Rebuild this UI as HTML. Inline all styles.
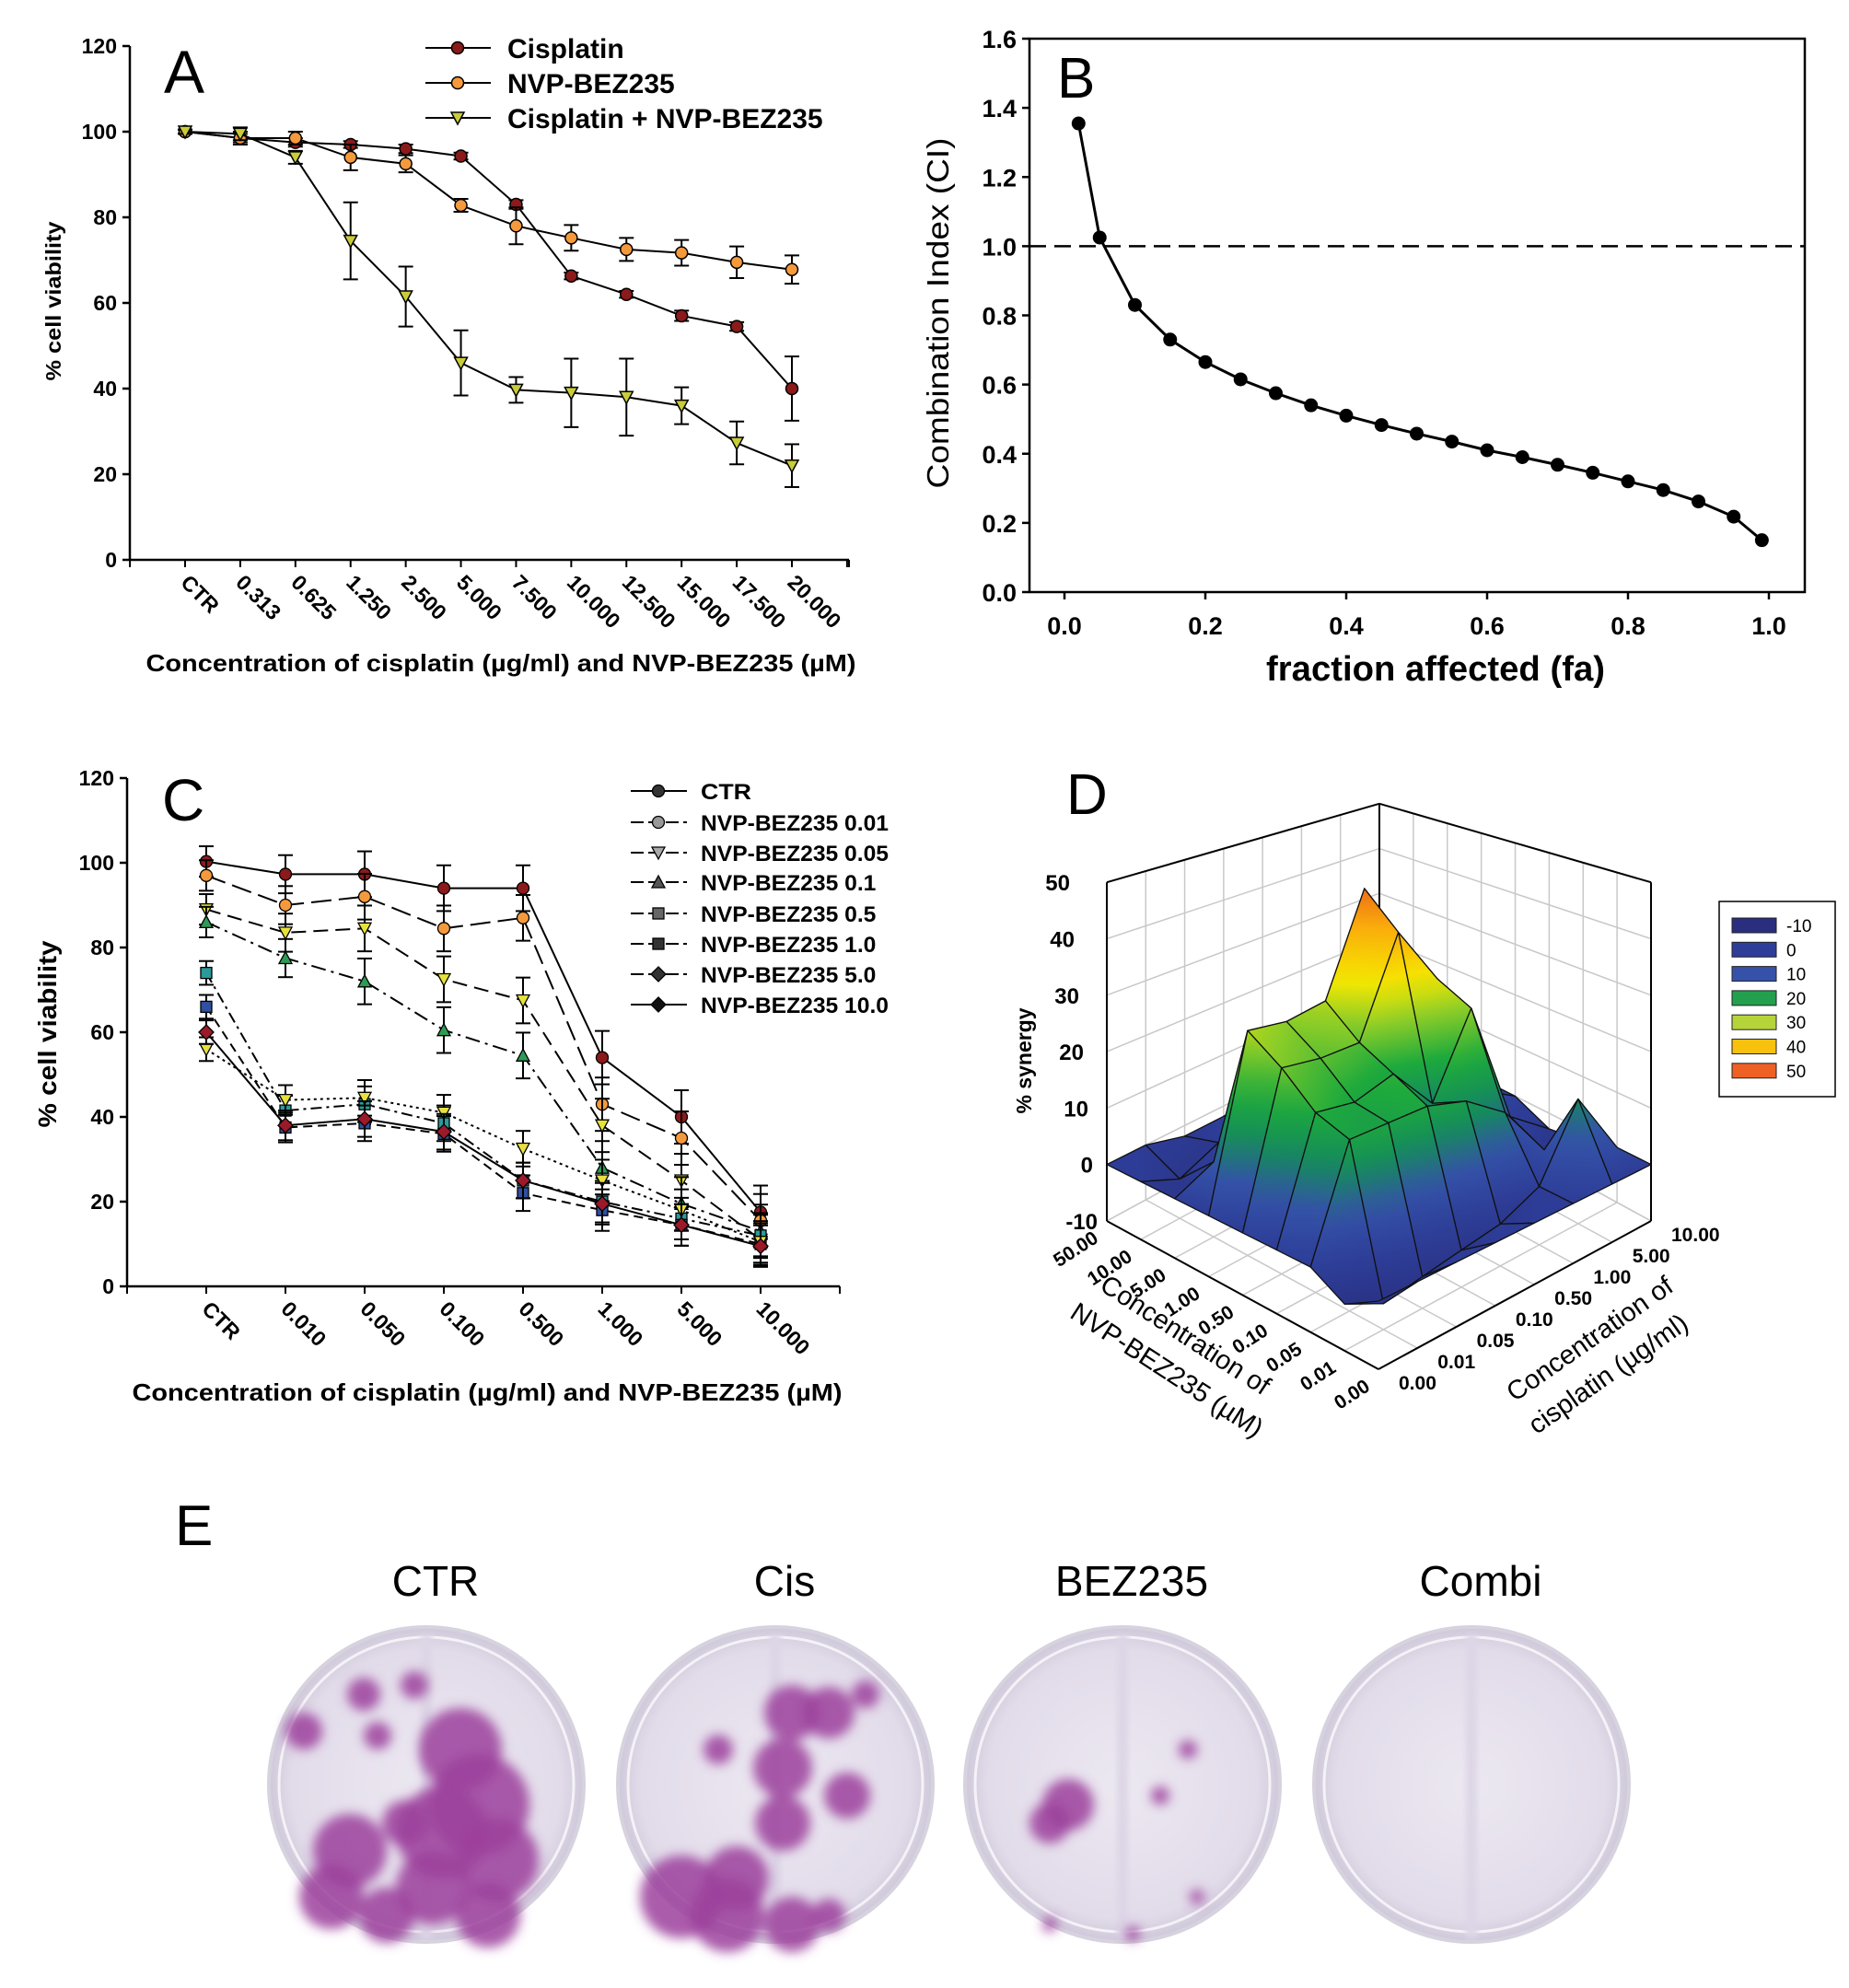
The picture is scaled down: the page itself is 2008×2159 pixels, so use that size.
<!DOCTYPE html>
<html><head><meta charset="utf-8"><style>
html,body{margin:0;padding:0;background:#fff}
svg{display:block;font-family:"Liberation Sans",Arial,sans-serif}
.b{font-weight:bold}
</style></head><body>
<svg id="fig" width="2008" height="2159" viewBox="0 0 2008 2159" xmlns="http://www.w3.org/2000/svg">
<defs id="defs">
<filter id="blur" x="-30%" y="-30%" width="160%" height="160%"><feGaussianBlur stdDeviation="6"/></filter>
<filter id="blur2" x="-30%" y="-30%" width="160%" height="160%"><feGaussianBlur stdDeviation="3"/></filter>
<radialGradient id="plateg" cx="50%" cy="50%" r="50%"><stop offset="0" stop-color="#ece8f1"/><stop offset="0.85" stop-color="#e2dcea"/><stop offset="1" stop-color="#cfc8da"/></radialGradient>
</defs>
<g id="panelA"></g>
<g id="panelB"></g>
<g id="panelC"></g>
<g id="panelD"></g>
<g id="panelE"></g>
</svg>
<script>
// ---------- Panel A data ----------
const aCats = ["CTR","0.313","0.625","1.250","2.500","5.000","7.500","10.000","12.500","15.000","17.500","20.000"];
const aCis = [100,98.5,97.5,97,96,94.3,83,66.3,62,57,54.5,40];
const aCisErr = [0.5,1,1,0.8,1,0.8,1,0.8,0.8,1.2,1,7.5];
const aNvp = [100,98.5,98.5,94,92.5,82.8,78,75.2,72.5,71.7,69.5,67.8];
const aNvpErr = [0.5,1.5,1.5,3,2,1.5,4.3,3,2.7,3,3.7,3.3];
const aCombo = [100,99.5,94,74.5,61.5,46,39.7,39,38,36,27.3,22];
const aComboErr = [0.5,1.5,1.5,9,7,7.6,3,8,9,4.3,5,5];
const aYTicks = [0,20,40,60,80,100,120];
// ---------- Panel B data ----------
const bFa = [0.02,0.05,0.1,0.15,0.2,0.25,0.3,0.35,0.4,0.45,0.5,0.55,0.6,0.65,0.7,0.75,0.8,0.85,0.9,0.95,0.99];
const bCI = [1.355,1.025,0.83,0.73,0.665,0.615,0.575,0.54,0.51,0.483,0.458,0.435,0.41,0.39,0.368,0.345,0.32,0.295,0.262,0.218,0.15];
const bYTicks = [0,0.2,0.4,0.6,0.8,1.0,1.2,1.4,1.6];
const bXTicks = [0,0.2,0.4,0.6,0.8,1.0];
// ---------- Panel C data ----------
const cCats = ["CTR","0.010","0.050","0.100","0.500","1.000","5.000","10.000"];
const cNames = ["CTR","NVP-BEZ235 0.01","NVP-BEZ235 0.05","NVP-BEZ235 0.1","NVP-BEZ235 0.5","NVP-BEZ235 1.0","NVP-BEZ235 5.0","NVP-BEZ235 10.0"];
const cS0 = [100.3,97.3,97.3,94,94,54,40,17.5];
const cS1 = [97,90,92,84.5,87,43,35,15.5];
const cS2 = [89,83.5,84.5,72.5,67.5,38,25,11];
const cS3 = [86,77.5,72,60.5,54.5,28,19.5,13];
const cS4 = [74,41.5,43,38.5,25,20,16,12];
const cS5 = [66,37.5,38.5,36,22,18,14.5,10];
const cS6 = [56,44,44.5,41,32.5,25,18,10.5];
const cS7 = [60,38,39.5,36.5,25,19.5,14.5,9.5];
const cErr = [4,5,6,6,6,7,7,7];
const cYTicks = [0,20,40,60,80,100,120];
// ---------- Panel D data ----------
const dNvp = ["0.00","0.01","0.05","0.10","0.50","1.00","5.00","10.00","50.00"];
const dCis = ["0.00","0.01","0.05","0.10","0.50","1.00","5.00","10.00"];
const dSyn = [
 [0,0,0,0,0,0,0,0],
 [-3,-6,-5,-4,-3,0,12,0],
 [0,17,17,17,15,10,0,-2],
 [0,19,18,20,12,26,3,-3],
 [0,24,23,23,40,29,5,0],
 [0,28,27,28,46,20,3,0],
 [0,3,5,8,10,5,0,-2],
 [0,-3,0,3,2,0,-2,0],
 [0,0,-2,-2,-1,0,0,0]];
const dLegend = [-10,0,10,20,30,40,50];
const dZTicks = [-10,0,10,20,30,40,50];

const NS="http://www.w3.org/2000/svg";
function mk(parent,tag,attrs,text){const e=document.createElementNS(NS,tag);for(const k in attrs)e.setAttribute(k,attrs[k]);if(text!==undefined)e.textContent=text;parent.appendChild(e);return e;}

// ================= Panel A =================
(function(){
 const g=document.getElementById('panelA');
 const X0=141,X1=922,Y0=608,Y1=50, cx0=201, step=(860-201)/11;
 const xp=i=>cx0+i*step, yp=v=>Y0+(v/120)*(Y1-Y0);
 let t=mk(g,'line',{x1:X0,y1:Y0,x2:X0,y2:Y1,stroke:'#000','stroke-width':2.5});
  
 t=mk(g,'line',{x1:X0,y1:Y0,x2:X1,y2:Y0,stroke:'#000','stroke-width':2.5});
  
 aYTicks.forEach(v=>{
  mk(g,'line',{x1:X0-8,y1:yp(v),x2:X0,y2:yp(v),stroke:'#000','stroke-width':2.5});
  const l=mk(g,'text',{x:X0-14,y:yp(v)+8,'text-anchor':'end','font-size':23,class:'b'},v);
   
 });
 for(let i=-1;i<=12;i++){const x=xp(i); if(x>=X0&&x<=X1+1) mk(g,'line',{x1:x,y1:Y0,x2:x,y2:Y0+8,stroke:'#000','stroke-width':2});}
 mk(g,'line',{x1:X1,y1:Y0,x2:X1,y2:Y0+8,stroke:'#000','stroke-width':2});
 aCats.forEach((c,i)=>{
  const l=mk(g,'text',{x:0,y:0,'font-size':23,class:'b',transform:`translate(${xp(i)-6},${Y0+26}) rotate(45)`},c);
   
 });
 let tt=mk(g,'text',{x:544,y:729,'text-anchor':'middle','font-size':26,class:'b',textLength:771,lengthAdjust:'spacingAndGlyphs'},'Concentration of cisplatin (µg/ml) and NVP-BEZ235 (µM)');
  
 tt=mk(g,'text',{x:0,y:0,'text-anchor':'middle','font-size':23,class:'b',transform:'translate(66,327) rotate(-90)',textLength:173,lengthAdjust:'spacingAndGlyphs'},'% cell viability');
  
 tt=mk(g,'text',{x:178,y:101,'font-size':66},'A');
  
 const series=[{v:aCis,e:aCisErr,c:'#8b1a1a',m:'c',n:'Cisplatin'},{v:aNvp,e:aNvpErr,c:'#f59a3c',m:'c',n:'NVP-BEZ235'},{v:aCombo,e:aComboErr,c:'#c9cc3a',m:'t',n:'Cisplatin + NVP-BEZ235'}];
 series.forEach((s,si)=>{
  const sg=mk(g,'g',{});
   
  s.v.forEach((v,i)=>{const x=xp(i);const e=s.e[i];
   mk(sg,'line',{x1:x,y1:yp(v+e),x2:x,y2:yp(v-e),stroke:'#000','stroke-width':2});
   mk(sg,'line',{x1:x-8,y1:yp(v+e),x2:x+8,y2:yp(v+e),stroke:'#000','stroke-width':2});
   mk(sg,'line',{x1:x-8,y1:yp(v-e),x2:x+8,y2:yp(v-e),stroke:'#000','stroke-width':2});});
  mk(sg,'polyline',{points:s.v.map((v,i)=>xp(i)+','+yp(v)).join(' '),fill:'none',stroke:'#000','stroke-width':2});
  s.v.forEach((v,i)=>{const x=xp(i),y=yp(v);let m;
   if(s.m==='c') m=mk(sg,'circle',{cx:x,cy:y,r:6.5,fill:s.c,stroke:'#000','stroke-width':1.5});
   else m=mk(sg,'polygon',{points:`${x-7},${y-6} ${x+7},${y-6} ${x},${y+7}`,fill:s.c,stroke:'#000','stroke-width':1.5});
    });
  const ly=[52,90,128][si];
  const lg=mk(g,'g',{});  
  mk(lg,'line',{x1:462,y1:ly,x2:533,y2:ly,stroke:'#000','stroke-width':2});
  if(s.m==='c') mk(lg,'circle',{cx:497,cy:ly,r:6.5,fill:s.c,stroke:'#000','stroke-width':1.5});
  else mk(lg,'polygon',{points:`490,${ly-6} 504,${ly-6} 497,${ly+7}`,fill:s.c,stroke:'#000','stroke-width':1.5});
  mk(lg,'text',{x:551,y:ly+11,'font-size':30,class:'b'},s.n);
 });
})();

// ================= Panel B =================
(function(){
 const g=document.getElementById('panelB');
 const X0=1118,X1=1960,Y0=643,Y1=42;
 const xp=v=>1156+v*(1921-1156), yp=v=>Y0+(v/1.6)*(Y1-Y0);
 let r=mk(g,'rect',{x:X0,y:Y1,width:X1-X0,height:Y0-Y1,fill:'none',stroke:'#000','stroke-width':2.5});
  
 bYTicks.forEach(v=>{mk(g,'line',{x1:X0-8,y1:yp(v),x2:X0,y2:yp(v),stroke:'#000','stroke-width':2.5});
  const l=mk(g,'text',{x:X0-14,y:yp(v)+10,'text-anchor':'end','font-size':27,class:'b'},v.toFixed(1));
   });
 bXTicks.forEach(v=>{mk(g,'line',{x1:xp(v),y1:Y0,x2:xp(v),y2:Y0+8,stroke:'#000','stroke-width':2.5});
  const l=mk(g,'text',{x:xp(v),y:Y0+46,'text-anchor':'middle','font-size':27,class:'b'},v.toFixed(1));
   });
 let t=mk(g,'line',{x1:X0,y1:yp(1),x2:X1,y2:yp(1),stroke:'#000','stroke-width':2.5,'stroke-dasharray':'18,9'});
  
 let d='M'+xp(bFa[0])+','+yp(bCI[0]);
 for(let i=1;i<bFa.length;i++) d+=' L'+xp(bFa[i])+','+yp(bCI[i]);
 t=mk(g,'path',{d:d,fill:'none',stroke:'#000','stroke-width':3,'stroke-linejoin':'round'});
  
 bFa.forEach((f,i)=>{const c=mk(g,'circle',{cx:xp(f),cy:yp(bCI[i]),r:7.5,fill:'#000'});
   });
 t=mk(g,'text',{x:1559,y:739,'text-anchor':'middle','font-size':38,class:'b',textLength:368,lengthAdjust:'spacingAndGlyphs'},'fraction affected (fa)');
  
 t=mk(g,'text',{x:0,y:0,'text-anchor':'middle','font-size':33,transform:'translate(1030,340) rotate(-90)',textLength:381,lengthAdjust:'spacingAndGlyphs'},'Combination Index (CI)');
  
 t=mk(g,'text',{x:1148,y:106,'font-size':62},'B');
  
})();

// ================= Panel C =================
(function(){
 const g=document.getElementById('panelC');
 const X0=138,X1=912,Y0=1397,Y1=845, cx0=224, step=(826-224)/7;
 const xp=i=>cx0+i*step, yp=v=>Y0+(v/120)*(Y1-Y0);
 mk(g,'line',{x1:X0,y1:Y0,x2:X0,y2:Y1,stroke:'#000','stroke-width':2.5});
 mk(g,'line',{x1:X0,y1:Y0,x2:X1,y2:Y0,stroke:'#000','stroke-width':2.5});
 cYTicks.forEach(v=>{mk(g,'line',{x1:X0-8,y1:yp(v),x2:X0,y2:yp(v),stroke:'#000','stroke-width':2.5});
  const l=mk(g,'text',{x:X0-14,y:yp(v)+8,'text-anchor':'end','font-size':23,class:'b'},v);
   });
 for(let i=-1;i<=8;i++){const x=xp(i);if(x>=X0-1&&x<=X1+1) mk(g,'line',{x1:x,y1:Y0,x2:x,y2:Y0+8,stroke:'#000','stroke-width':2});}
 mk(g,'line',{x1:X1,y1:Y0,x2:X1,y2:Y0+8,stroke:'#000','stroke-width':2});
 cCats.forEach((c,i)=>{const l=mk(g,'text',{x:0,y:0,'font-size':23,class:'b',transform:`translate(${xp(i)-6},${Y0+26}) rotate(45)`},c);
   });
 let t=mk(g,'text',{x:529,y:1521,'text-anchor':'middle','font-size':26,class:'b',textLength:771,lengthAdjust:'spacingAndGlyphs'},'Concentration of cisplatin (µg/ml) and NVP-BEZ235 (µM)');
  
 t=mk(g,'text',{x:0,y:0,'text-anchor':'middle','font-size':28,class:'b',transform:'translate(61,1123) rotate(-90)',textLength:203,lengthAdjust:'spacingAndGlyphs'},'% cell viability');
  
 t=mk(g,'text',{x:176,y:891,'font-size':64},'C');
  
 const all=[cS0,cS1,cS2,cS3,cS4,cS5,cS6,cS7];
 const cols=['#8b1a1a','#f59a3c','#e6e23a','#2e9a55','#2a9a9a','#3050a0','#e8e040','#9a1a2a'];
 const mks=['c','c','tv','t','s','s','tv','d'];
 const dash=['none','22,8','16,8','16,6,3,6','12,5,3,5','10,6','3,4','none'];
 const lys=[859,893,926,958,992,1025,1058,1091];
 const lmk=['c','c','tv','t','s','s','d','d'];
 const lcol=['#333','#999','#aaa','#555','#666','#333','#333','#111'];
 function marker(p,m,x,y,c){
  if(m==='c') return mk(p,'circle',{cx:x,cy:y,r:6.5,fill:c,stroke:'#000','stroke-width':1.3});
  if(m==='tv') return mk(p,'polygon',{points:`${x-7},${y-6} ${x+7},${y-6} ${x},${y+7}`,fill:c,stroke:'#000','stroke-width':1.3});
  if(m==='t') return mk(p,'polygon',{points:`${x-7},${y+6} ${x+7},${y+6} ${x},${y-7}`,fill:c,stroke:'#000','stroke-width':1.3});
  if(m==='s') return mk(p,'rect',{x:x-6,y:y-6,width:12,height:12,fill:c,stroke:'#000','stroke-width':1.3});
  return mk(p,'polygon',{points:`${x},${y-8} ${x+8},${y} ${x},${y+8} ${x-8},${y}`,fill:c,stroke:'#000','stroke-width':1.3});
 }
 all.forEach((s,si)=>{
  const sg=mk(g,'g',{});
   
  s.forEach((v,i)=>{const x=xp(i),e=cErr[i]*(si<4?0.9:0.7);
   mk(sg,'line',{x1:x,y1:yp(v+e),x2:x,y2:yp(v-e),stroke:'#000','stroke-width':2});
   mk(sg,'line',{x1:x-8,y1:yp(v+e),x2:x+8,y2:yp(v+e),stroke:'#000','stroke-width':2});
   mk(sg,'line',{x1:x-8,y1:yp(v-e),x2:x+8,y2:yp(v-e),stroke:'#000','stroke-width':2});});
  const pl=mk(sg,'polyline',{points:s.map((v,i)=>xp(i)+','+yp(v)).join(' '),fill:'none',stroke:'#000','stroke-width':2});
  if(dash[si]!=='none') pl.setAttribute('stroke-dasharray',dash[si]);
  s.forEach((v,i)=>{const m=marker(sg,mks[si],xp(i),yp(v),cols[si]);
    });
  const lg=mk(g,'g',{});  
  const ly=lys[si];
  const ll=mk(lg,'line',{x1:685,y1:ly,x2:746,y2:ly,stroke:'#000','stroke-width':2});
  if(dash[si]!=='none') ll.setAttribute('stroke-dasharray','14,5');
  marker(lg,lmk[si],715,ly,lcol[si]);
  mk(lg,'text',{x:761,y:ly+9,'font-size':24,class:'b',textLength:si===0?55:(cNames[si].length*13.6),lengthAdjust:'spacingAndGlyphs'},cNames[si]);
 });
})();

// ================= Panel D =================
(function(){
 const g=document.getElementById('panelD');
 const defs=document.getElementById('defs');
 const F=[1497,1487], L=[1202,1326], R=[1793,1326];
 const nI=dNvp.length-1, nJ=dCis.length-1;
 function floor(u,v){return [F[0]+u*(L[0]-F[0])+v*(R[0]-F[0]), F[1]+u*(L[1]-F[1])+v*(R[1]-F[1])];}
 function sc(u,v){return 7.39-1.26*(u+v);}
 function P(u,v,z){const f=floor(u,v);return [f[0],f[1]-(z+10)*sc(u,v)];}
 const grid='#c8c8c8';
 dZTicks.forEach(z=>{
  const a=P(1,0,z),b=P(1,1,z),c=P(0,1,z);
  mk(g,'polyline',{points:`${a[0]},${a[1]} ${b[0]},${b[1]} ${c[0]},${c[1]}`,fill:'none',stroke:grid,'stroke-width':1.5});
  const l=mk(g,'text',{x:a[0]-10-(z+10)*0.5,y:a[1]+9,'text-anchor':'end','font-size':24,class:'b'},z);
   
 });
 for(let j=0;j<=nJ;j++){const v=j/nJ;const a=P(1,v,-10),b=P(1,v,50);mk(g,'line',{x1:a[0],y1:a[1],x2:b[0],y2:b[1],stroke:grid,'stroke-width':1.5});
  const c=P(0,v,-10);mk(g,'line',{x1:a[0],y1:a[1],x2:c[0],y2:c[1],stroke:grid,'stroke-width':1.5});}
 for(let i=0;i<=nI;i++){const u=i/nI;const a=P(u,1,-10),b=P(u,1,50);mk(g,'line',{x1:a[0],y1:a[1],x2:b[0],y2:b[1],stroke:grid,'stroke-width':1.5});
  const c=P(u,0,-10);mk(g,'line',{x1:a[0],y1:a[1],x2:c[0],y2:c[1],stroke:grid,'stroke-width':1.5});}
 const e1=P(1,0,-10),e2=P(1,0,50),e3=P(0,1,-10),e4=P(0,1,50),e5=P(1,1,-10),e6=P(1,1,50),e0=P(0,0,-10);
 [[e1,e2],[e3,e4],[e5,e6],[e2,e6],[e6,e4],[e1,e0],[e0,e3]].forEach(p=>mk(g,'line',{x1:p[0][0],y1:p[0][1],x2:p[1][0],y2:p[1][1],stroke:'#000','stroke-width':2}));
 function col(z){
  const st=[[-10,[40,45,120]],[0,[45,60,150]],[7,[52,82,168]],[13,[20,140,90]],[19,[30,170,60]],[26,[140,205,40]],[32,[245,232,0]],[40,[250,175,10]],[50,[232,68,30]]];
  if(z<=st[0][0]) return 'rgb('+st[0][1]+')';
  for(let k=1;k<st.length;k++){if(z<=st[k][0]){const t=(z-st[k-1][0])/(st[k][0]-st[k-1][0]);const a=st[k-1][1],b=st[k][1];
   return 'rgb('+a.map((q,ii)=>Math.round(q+(b[ii]-q)*t)).join(',')+')';}}
  return 'rgb('+st[st.length-1][1]+')';
 }
 const quads=[];
 for(let i=0;i<nI;i++)for(let j=0;j<nJ;j++) quads.push([i,j]);
 quads.sort((a,b)=>(b[0]/nI+b[1]/nJ)-(a[0]/nI+a[1]/nJ));
 const sg=mk(g,'g',{});  
 let gid=0;
 quads.forEach(([i,j])=>{
  const pts=[[i,j],[i+1,j],[i+1,j+1],[i,j+1]];
  const zs=pts.map(p=>dSyn[p[0]][p[1]]);
  const pp=pts.map(p=>P(p[0]/nI,p[1]/nJ,dSyn[p[0]][p[1]]));
  let kmin=0,kmax=0;zs.forEach((z,k)=>{if(z<zs[kmin])kmin=k;if(z>zs[kmax])kmax=k;});
  let fill;
  if(zs[kmax]-zs[kmin]<0.5){fill=col(zs[0]);}
  else{
   const id='sg'+(gid++);
   const lgd=mk(defs,'linearGradient',{id:id,gradientUnits:'userSpaceOnUse',x1:pp[kmin][0],y1:pp[kmin][1],x2:pp[kmax][0],y2:pp[kmax][1]});
   for(let s=0;s<=8;s++){const z=zs[kmin]+(zs[kmax]-zs[kmin])*s/8;mk(lgd,'stop',{offset:s/8,'stop-color':col(z)});}
   fill='url(#'+id+')';
  }
  const q=mk(sg,'polygon',{points:pp.map(p=>p.join(',')).join(' '),fill:fill,stroke:'#111','stroke-width':1.3,'stroke-linejoin':'round'});
   
 });
 dNvp.forEach((n,i)=>{const p=P(i/nI,0,-10);
  const l=mk(g,'text',{x:0,y:0,'text-anchor':'end','font-size':21,class:'b',transform:`translate(${p[0]-8},${p[1]+22}) rotate(-33)`},n);
   });
 dCis.forEach((n,j)=>{const p=P(0,j/nJ,-10);
  const l=mk(g,'text',{x:p[0]+22,y:p[1]+22,'font-size':21,class:'b'},n);
   });
 let t=mk(g,'text',{x:0,y:0,'text-anchor':'middle','font-size':29,transform:'translate(1282,1458) rotate(33)'},'Concentration of');
  
 t=mk(g,'text',{x:0,y:0,'text-anchor':'middle','font-size':29,transform:'translate(1262,1496) rotate(33)'},'NVP-BEZ235 (µM)');
  
 t=mk(g,'text',{x:0,y:0,'text-anchor':'middle','font-size':29,transform:'translate(1732,1462) rotate(-35)'},'Concentration of');
  
 t=mk(g,'text',{x:0,y:0,'text-anchor':'middle','font-size':29,transform:'translate(1752,1500) rotate(-35)'},'cisplatin (µg/ml)');
  
 t=mk(g,'text',{x:0,y:0,'text-anchor':'middle','font-size':23,class:'b',transform:'translate(1120,1152) rotate(-90)'},'% synergy');
  
 t=mk(g,'text',{x:1158,y:884,'font-size':62},'D');
  
 const lg=mk(g,'g',{});  
 mk(lg,'rect',{x:1867,y:979,width:126,height:212,fill:'#fff',stroke:'#000','stroke-width':1.5});
 const lc=['#2a2e7e','#2e3d98','#3652a8','#23a04e','#b5d43a','#f7c10e','#ee6024'];
 dLegend.forEach((v,k)=>{const y=1005+k*26.3;
  const e=mk(lg,'g',{});  
  mk(e,'rect',{x:1881,y:y-8,width:48,height:16,fill:lc[k],stroke:'#222','stroke-width':1});
  mk(e,'text',{x:1940,y:y+7,'font-size':19},v);});
})();

// ================= Panel E =================
(function(){
 const g=document.getElementById('panelE');
 let t=mk(g,'text',{x:190,y:1678,'font-size':62},'E');
  
 const plates=[{x:463,n:'CTR'},{x:842,n:'Cis'},{x:1219,n:'BEZ235'},{x:1598,n:'Combi'}];
 const blobs=[
  [[520,1960,55],[480,1990,50],[500,1900,45],[540,2020,45],[470,2050,40],[380,2010,40],[360,2060,35],[420,2080,30],[530,2080,35],[395,1840,18],[410,1885,15],[450,1830,15],[330,1880,20],[440,1980,25]],
  [[860,1860,30],[900,1860,28],[850,1920,32],[850,1980,30],[920,1950,25],[740,2060,45],[790,2080,40],[860,2090,30],[800,2040,35],[900,2080,18],[780,1900,16],[940,1840,15]],
  [[1160,1960,28],[1140,1980,22],[1290,1900,10],[1260,1950,10],[1300,2060,8],[1140,2090,8],[1230,2100,8]],
  []];
 plates.forEach((p,pi)=>{
  const pg=mk(g,'g',{});  
  mk(pg,'circle',{cx:p.x,cy:1938,r:171,fill:'url(#plateg)',stroke:'#d6d2de','stroke-width':4});
  mk(pg,'circle',{cx:p.x,cy:1938,r:160,fill:'none',stroke:'#f4f2f7','stroke-width':3});
  mk(pg,'rect',{x:p.x-6,y:1775,width:12,height:330,fill:'#ddd6e6',filter:'url(#blur2)'});
  const bg=mk(pg,'g',{filter:'url(#blur)'});
  blobs[pi].forEach(b=>mk(bg,'circle',{cx:b[0],cy:b[1],r:b[2],fill:'#9c3f9c','fill-opacity':0.85}));
  const l=mk(g,'text',{x:p.x+10,y:1733,'text-anchor':'middle','font-size':46},p.n);
   
 });
})();
</script>
</body></html>
